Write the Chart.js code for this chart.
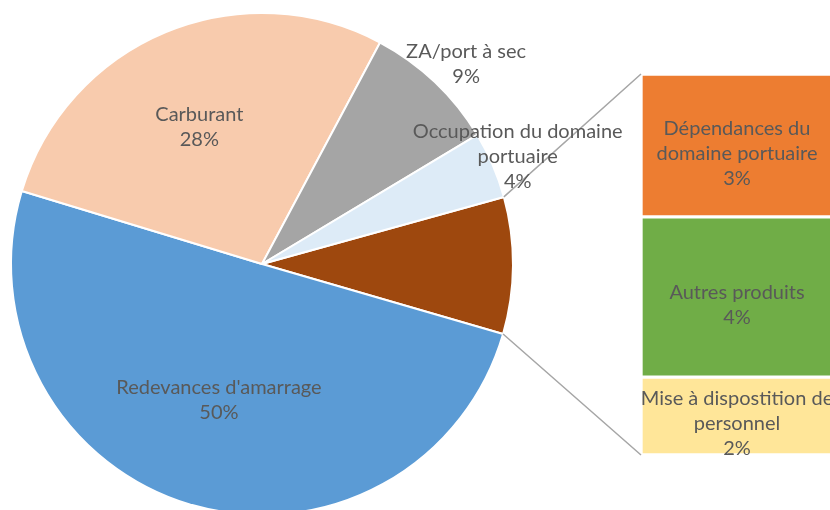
<!DOCTYPE html>
<html>
<head>
<meta charset="utf-8">
<script src="https://cdn.jsdelivr.net/npm/chart.js@4.4.1/dist/chart.umd.min.js"></script>
<style>
  html, body { margin: 0; padding: 0; background: #fff; }
  #wrap { position: relative; width: 830px; height: 510px; overflow: hidden; }
  #pieCanvas { position: absolute; left: 0; top: 0; }
  #barCanvas { position: absolute; left: 641px; top: 74px; }
  #overlay { position: absolute; left: 0; top: 0; pointer-events: none; }
</style>
</head>
<body>
<div id="wrap">
  <canvas id="pieCanvas" width="524" height="528"></canvas>
  <canvas id="barCanvas" width="192" height="381"></canvas>
  <canvas id="overlay" width="830" height="510"></canvas>
</div>
<script>
// main pie: first slice is the "other" slice that opens into the bar
const pieLabels = [
  ["Autres"],
  ["Redevances d'amarrage"],
  ["Carburant"],
  ["ZA/port à sec"],
  ["Occupation du domaine", "portuaire"]
];
const pieValues = [null, 50.2, 28.1, 8.6, 4.3];
const pieColours = ["#9E480E", "#5B9BD5", "#F8CBAD", "#A5A5A5", "#DDEBF7"];

// secondary bar (detail of the "other" slice), top to bottom
const barLabels = [
  ["Dépendances du", "domaine portuaire"],
  ["Autres produits"],
  ["Mise à dispostition de", "personnel"]
];
const barValues = [3.3, 3.7, 1.8];
const barColours = ["#ED7D31", "#70AD47", "#FFE699"];

const barTotal = barValues.reduce((a, b) => a + b, 0);
pieValues[0] = barTotal;
const grandTotal = pieValues.reduce((a, b) => a + b, 0);

const textColour = "#595959";
const font = "20px Lato";
const lineHeight = 25;
// where the pie labels sit, as a share of the radius (0 = no label), plus a nudge
const labelRadius = [0, 0.56, 0.61, 1.14, 1.10];
const labelNudge = [[0, 0], [-3, 1], [-4, 4], [7, 7], [2, 1]];

Chart.defaults.font.family = "Lato";

const pieChart = new Chart(document.getElementById("pieCanvas"), {
  type: "pie",
  data: {
    labels: pieLabels.map((l) => l.join(" ")),
    datasets: [
      {
        data: pieValues,
        backgroundColor: pieColours,
        borderColor: "#ffffff",
        borderWidth: 2,
        hoverOffset: 0,
        offset: 0,
      },
    ],
  },
  options: {
    responsive: false,
    animation: false,
    rotation: 74.5,
    layout: { padding: { left: 10, right: 10, top: 12, bottom: 12 } },
    plugins: { legend: { display: false }, tooltip: { enabled: false } },
  },
});

const barChart = new Chart(document.getElementById("barCanvas"), {
  type: "bar",
  data: {
    labels: ["Autres"],
    datasets: barValues.map((v, i) => ({
      label: barLabels[i].join(" "),
      data: [v],
      backgroundColor: barColours[i],
      borderColor: "#ffffff",
      borderWidth: 2,
      borderSkipped: false,
      barPercentage: 1,
      categoryPercentage: 1,
    })),
  },
  options: {
    responsive: false,
    animation: false,
    layout: { padding: 0 },
    scales: {
      x: { display: false, stacked: true },
      y: { display: false, stacked: true, reverse: true, min: 0, max: barTotal },
    },
    plugins: { legend: { display: false }, tooltip: { enabled: false } },
  },
});

function drawLines(ctx, lines, cx, cy) {
  const top = cy - ((lines.length - 1) * lineHeight) / 2;
  lines.forEach((line, i) => {
    ctx.fillText(line, cx, top + i * lineHeight);
  });
}

function drawOverlay() {
  const ctx = document.getElementById("overlay").getContext("2d");
  const pieBox = document.getElementById("pieCanvas");
  const barBox = document.getElementById("barCanvas");
  const px = pieBox.offsetLeft, py = pieBox.offsetTop;
  const bx = barBox.offsetLeft, by = barBox.offsetTop;

  // stack outline
  const rects = barChart.data.datasets.map((ds, i) => {
    const el = barChart.getDatasetMeta(i).data[0];
    const p = el.getProps(["x", "y", "base", "width"], true);
    return {
      left: bx + p.x - p.width / 2,
      right: bx + p.x + p.width / 2,
      top: by + Math.min(p.y, p.base),
      bottom: by + Math.max(p.y, p.base),
    };
  });
  const stackTop = Math.min(...rects.map((r) => r.top));
  const stackBottom = Math.max(...rects.map((r) => r.bottom));
  const stackLeft = rects[0].left;

  // connector lines from the "other" slice to the bar
  const arc = pieChart.getDatasetMeta(0).data[0];
  const a = arc.getProps(["x", "y", "startAngle", "endAngle", "outerRadius"], true);
  ctx.strokeStyle = "#A6A6A6";
  ctx.lineWidth = 1.5;
  ctx.beginPath();
  ctx.moveTo(px + a.x + a.outerRadius * Math.cos(a.startAngle), py + a.y + a.outerRadius * Math.sin(a.startAngle));
  ctx.lineTo(stackLeft, stackTop);
  ctx.moveTo(px + a.x + a.outerRadius * Math.cos(a.endAngle), py + a.y + a.outerRadius * Math.sin(a.endAngle));
  ctx.lineTo(stackLeft, stackBottom);
  ctx.stroke();

  ctx.fillStyle = textColour;
  ctx.font = font;
  ctx.textAlign = "center";
  ctx.textBaseline = "middle";

  // pie labels
  pieChart.getDatasetMeta(0).data.forEach((el, i) => {
    if (!labelRadius[i]) return;
    const p = el.getProps(["x", "y", "startAngle", "endAngle", "outerRadius"], true);
    const mid = (p.startAngle + p.endAngle) / 2;
    const r = p.outerRadius * labelRadius[i];
    const pct = Math.round((pieValues[i] / grandTotal) * 100) + "%";
    drawLines(
      ctx,
      pieLabels[i].concat([pct]),
      px + p.x + r * Math.cos(mid) + labelNudge[i][0],
      py + p.y + r * Math.sin(mid) + labelNudge[i][1]
    );
  });

  // bar labels
  rects.forEach((r, i) => {
    const pct = Math.round((barValues[i] / grandTotal) * 100) + "%";
    drawLines(ctx, barLabels[i].concat([pct]), (r.left + r.right) / 2, (r.top + r.bottom) / 2 + 8);
  });
}

drawOverlay();
</script>
</body>
</html>
